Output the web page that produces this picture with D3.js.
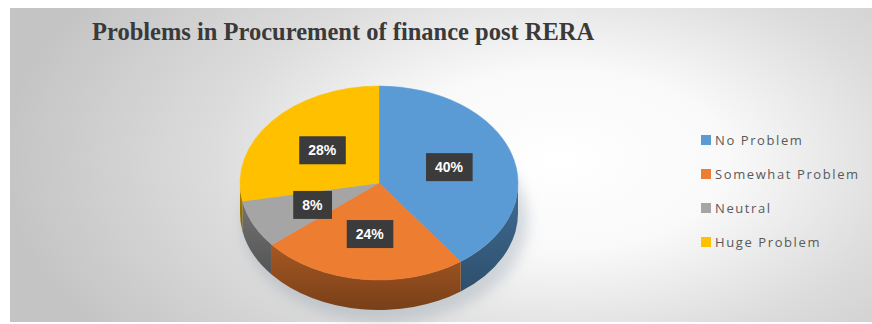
<!DOCTYPE html>
<html>
<head>
<meta charset="utf-8">
<script src="https://cdn.jsdelivr.net/npm/d3@7"></script>
<style>
  html, body { margin: 0; padding: 0; background: #ffffff; }
  svg { display: block; }
</style>
</head>
<body>
<svg id="chart" width="872" height="324"></svg>
<script>
// Survey responses: problems in procurement of finance after RERA
const categories = ["No Problem", "Somewhat Problem", "Neutral", "Huge Problem"];
const shares = [40, 24, 8, 28];
const colors = ["#5b9bd5", "#ed7d31", "#a5a5a5", "#ffc000"];
const title = "Problems in Procurement of finance post RERA";

const W = 872, H = 324;
const svg = d3.select("#chart");
const defs = svg.append("defs");

// Plot background: soft radial fade from white to grey
const bg = defs.append("radialGradient")
  .attr("id", "bgGrad")
  .attr("gradientUnits", "userSpaceOnUse")
  .attr("cx", 560).attr("cy", 160).attr("r", 560)
  .attr("gradientTransform", "translate(560,160) scale(1,0.55) translate(-560,-160)");
bg.append("stop").attr("offset", "0").attr("stop-color", "#ffffff");
bg.append("stop").attr("offset", "0.3").attr("stop-color", "#f9f9f9");
bg.append("stop").attr("offset", "0.62").attr("stop-color", "#dcdcdc");
bg.append("stop").attr("offset", "1").attr("stop-color", "#c4c4c4");

svg.append("rect")
  .attr("x", 10).attr("y", 8)
  .attr("width", W - 10).attr("height", 314)
  .attr("fill", "url(#bgGrad)");

// Title
svg.append("text")
  .attr("x", 92).attr("y", 40)
  .attr("font-family", "'Liberation Serif', 'Times New Roman', serif")
  .attr("font-weight", "bold")
  .attr("font-size", 24.5)
  .attr("fill", "#3a3a3a")
  .text(title);

// 3-D pie geometry (tilted ellipse with visible side wall)
const cx = 379, cy = 183, rx = 139, ry = 97, depth = 30;
const pt = (a, dy = 0) => [cx + rx * Math.sin(a), cy - ry * Math.cos(a) + dy];

const arcs = d3.pie().sort(null).value(d => d)(shares);

// shadow under the pie
const blur = defs.append("filter").attr("id", "shadowBlur")
  .attr("x", "-30%").attr("y", "-30%").attr("width", "160%").attr("height", "160%");
blur.append("feGaussianBlur").attr("stdDeviation", 7);
svg.append("ellipse")
  .attr("cx", cx + 6).attr("cy", cy + depth + 8)
  .attr("rx", rx + 4).attr("ry", ry + 4)
  .attr("fill", "#8a9aa8").attr("opacity", 0.35)
  .attr("filter", "url(#shadowBlur)");

const pieG = svg.append("g");

// side walls (front half only, angles between pi/2 and 3pi/2)
arcs.forEach((d, i) => {
  const s = Math.max(d.startAngle, Math.PI / 2);
  const e = Math.min(d.endAngle, 3 * Math.PI / 2);
  if (e <= s) return;
  const p0 = pt(s), p1 = pt(e), q1 = pt(e, depth), q0 = pt(s, depth);
  const large = (e - s) > Math.PI ? 1 : 0;
  const gid = "side" + i;
  const base = d3.color(colors[i]);
  const g = defs.append("linearGradient").attr("id", gid)
    .attr("x1", 0).attr("y1", 0).attr("x2", 0).attr("y2", 1);
  g.append("stop").attr("offset", "0").attr("stop-color", base.darker(1.0));
  g.append("stop").attr("offset", "1").attr("stop-color", base.darker(1.9));
  pieG.append("path")
    .attr("d", `M${p0}A${rx},${ry} 0 ${large} 1 ${p1}L${q1}A${rx},${ry} 0 ${large} 0 ${q0}Z`)
    .attr("fill", `url(#${gid})`);
});

// top faces
arcs.forEach((d, i) => {
  const p0 = pt(d.startAngle), p1 = pt(d.endAngle);
  const large = (d.endAngle - d.startAngle) > Math.PI ? 1 : 0;
  pieG.append("path")
    .attr("d", `M${cx},${cy}L${p0}A${rx},${ry} 0 ${large} 1 ${p1}Z`)
    .attr("fill", colors[i])
    .attr("stroke", colors[i])
    .attr("stroke-width", 0.5);
});

// data labels in dark boxes
const labelG = svg.append("g");
arcs.forEach((d, i) => {
  const mid = (d.startAngle + d.endAngle) / 2;
  const f = 0.53;
  const x = cx + rx * f * Math.sin(mid);
  const y = cy - ry * f * Math.cos(mid);
  const g = labelG.append("g").attr("transform", `translate(${x},${y})`);
  const t = g.append("text")
    .attr("text-anchor", "middle")
    .attr("dy", "0.36em")
    .attr("font-family", "'Liberation Sans', Arial, sans-serif")
    .attr("font-weight", "bold")
    .attr("font-size", 14)
    .attr("fill", "#ffffff")
    .text(d.data + "%");
  const bb = t.node().getBBox();
  g.insert("rect", "text")
    .attr("x", bb.x - 9).attr("y", bb.y - 6)
    .attr("width", bb.width + 18).attr("height", bb.height + 12)
    .attr("fill", "#3b3b3b");
});

// legend
const legend = svg.append("g");
const legendY = d3.scalePoint().domain(categories).range([140, 242]);
categories.forEach((c, i) => {
  const y = legendY(c);
  legend.append("rect")
    .attr("x", 701).attr("y", y - 5)
    .attr("width", 10).attr("height", 10)
    .attr("fill", colors[i]);
  legend.append("text")
    .attr("x", 715).attr("y", y)
    .attr("dy", "0.35em")
    .attr("font-family", "'Open Sans', 'Liberation Sans', sans-serif")
    .attr("font-size", 13)
    .attr("letter-spacing", 1.6)
    .attr("fill", "#595959")
    .text(c);
});
</script>
</body>
</html>
